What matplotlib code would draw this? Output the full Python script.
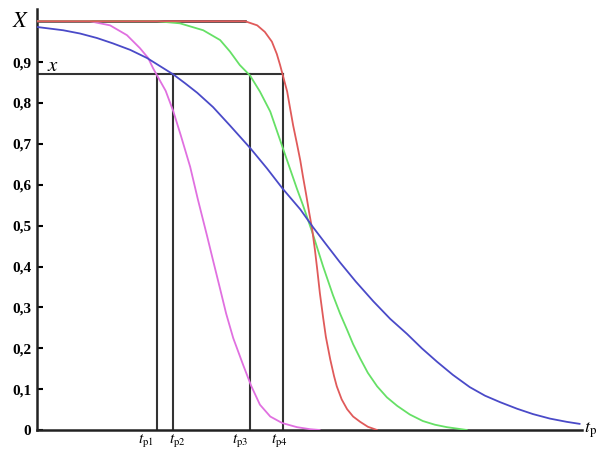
import matplotlib.pyplot as plt

plt.rcParams['mathtext.fontset'] = 'stix'

# curve samples (t in % of axis length, X in 0..1)
t_mag = [0.0, 9.7, 13.4, 16.5, 18.9, 20.4, 21.3, 22.0, 23.6, 25.0, 26.4, 28.1,
         29.5, 31.2, 32.3, 33.6, 34.7, 36.0, 37.8, 39.3, 40.9, 42.8, 45.0, 47.7,
         50.1, 51.9]
x_mag = [1.0, 1.0, 0.99, 0.966, 0.934, 0.91, 0.885, 0.868, 0.83, 0.78, 0.72, 0.644,
         0.565, 0.475, 0.415, 0.345, 0.285, 0.225, 0.16, 0.108, 0.062, 0.033, 0.017, 0.007,
         0.002, 0.0]

t_grn = [0.0, 22.0, 26.2, 30.5, 33.6, 35.4, 37.2, 39.1, 40.9, 42.8, 45.1, 46.4,
         47.7, 48.8, 49.7, 50.6, 52.5, 54.3, 55.6, 56.9, 58.0, 59.3, 60.7, 62.4,
         64.2, 66.1, 68.4, 70.8, 73.0, 75.2, 78.9]
x_grn = [1.0, 1.0, 0.995, 0.978, 0.954, 0.926, 0.893, 0.867, 0.828, 0.779, 0.69, 0.64,
         0.59, 0.55, 0.515, 0.48, 0.40, 0.33, 0.285, 0.245, 0.21, 0.175, 0.14, 0.107,
         0.08, 0.059, 0.038, 0.022, 0.013, 0.007, 0.0]

t_red = [0.0, 38.2, 40.4, 41.8, 43.1, 44.0, 44.6, 45.1, 45.9, 46.4, 47.0, 47.7,
         48.3, 48.8, 49.4, 49.9, 50.5, 51.0, 51.4, 51.9, 52.5, 53.0, 53.8, 54.5,
         55.0, 55.9, 56.9, 58.0, 59.3, 60.7, 62.4]
x_red = [1.0, 1.0, 0.99, 0.974, 0.95, 0.92, 0.893, 0.868, 0.828, 0.79, 0.745, 0.70,
         0.66, 0.62, 0.575, 0.535, 0.49, 0.44, 0.395, 0.335, 0.275, 0.228, 0.173, 0.132,
         0.107, 0.075, 0.051, 0.033, 0.02, 0.008, 0.0]

t_blu = [0.0, 4.8, 7.9, 11.0, 13.9, 17.1, 20.2, 22.6, 25.0, 27.2, 29.4, 32.3,
         35.4, 39.1, 42.2, 45.1, 48.3, 50.6, 53.0, 55.6, 58.5, 61.7, 64.8, 67.9,
         70.6, 73.4, 76.3, 79.4, 82.2, 85.0, 88.1, 91.0, 94.1, 97.2, 99.6]
x_blu = [0.986, 0.978, 0.97, 0.959, 0.946, 0.93, 0.91, 0.89, 0.87, 0.848, 0.825, 0.79,
         0.745, 0.69, 0.64, 0.59, 0.54, 0.497, 0.455, 0.41, 0.363, 0.315, 0.272, 0.235,
         0.20, 0.167, 0.135, 0.105, 0.084, 0.068, 0.052, 0.039, 0.028, 0.02, 0.015]

tp = [22.0, 25.0, 39.1, 45.1]
tp_labels = [r'$t_{\mathrm{p1}}$', r'$t_{\mathrm{p2}}$', r'$t_{\mathrm{p3}}$', r'$t_{\mathrm{p4}}$']
x_level = 0.87
red_start = 38.2

yticks = [0, 0.1, 0.2, 0.3, 0.4, 0.5, 0.6, 0.7, 0.8, 0.9]
ytick_labels = ['0', '0,1', '0,2', '0,3', '0,4', '0,5', '0,6', '0,7', '0,8', '0,9']

fig = plt.figure(figsize=(6, 4.5), dpi=100)
ax = fig.add_axes([0.0617, 0.0444, 0.9083, 0.9356])

# black guide lines
ax.plot([0, red_start], [1, 1], color='#222222', lw=1.8, zorder=2)
ax.plot([0, tp[-1]], [x_level, x_level], color='#333333', lw=1.5, zorder=2)
for t in tp:
    ax.plot([t, t], [0, x_level], color='#333333', lw=1.5, zorder=2)

# curves
line_kw = dict(lw=1.3, zorder=3, solid_joinstyle='round', solid_capstyle='round')
ax.plot(t_mag, x_mag, color='#e070e0', **line_kw)
ax.plot(t_grn, x_grn, color='#66e066', **line_kw)
ax.plot(t_red, x_red, color='#e05a5a', **line_kw)
ax.plot(t_blu, x_blu, color='#4a4ac8', **line_kw)

ax.set_xlim(0, 100)
ax.set_ylim(0, 1.03)
ax.spines['top'].set_visible(False)
ax.spines['right'].set_visible(False)
for side in ['left', 'bottom']:
    ax.spines[side].set_linewidth(1.8)
    ax.spines[side].set_color('#222222')

ax.set_yticks(yticks)
ax.set_yticklabels(ytick_labels, fontfamily='Liberation Serif', fontweight='bold', fontsize=11)
ax.tick_params(axis='y', direction='in', length=4, width=1.5, pad=4)
ax.set_xticks([])

# axis names
ax.text(-1.5, 1.0, r'$X$', fontsize=16, ha='right', va='center')
ax.text(1.8, 0.893, r'$x$', fontsize=15, ha='left', va='center')
ax.text(100.4, 0.0, r'$t_{\mathrm{p}}$', fontsize=13, ha='left', va='center')

shifts = [-2.0, 0.8, -1.8, -0.6]
for t, lab, s in zip(tp, tp_labels, shifts):
    ax.text(t + s, -0.004, lab, fontsize=11, ha='center', va='top')

fig.savefig('out.png', dpi=100)
plt.close(fig)
